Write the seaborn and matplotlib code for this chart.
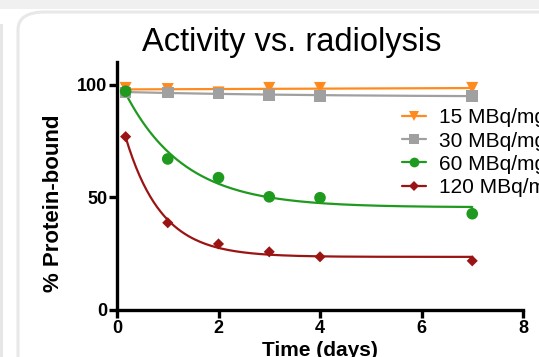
import matplotlib

matplotlib.use("Agg", force=True)
import numpy as np  # noqa: E402
import pandas as pd  # noqa: E402
import seaborn as sns  # noqa: E402
from matplotlib import pyplot as plt  # noqa: E402
from matplotlib.lines import Line2D  # noqa: E402
from matplotlib.patches import FancyBboxPatch, Rectangle  # noqa: E402

TIME_DAYS = [0.17, 1, 2, 3, 4, 7]
SERIES_ORDER = ["15 MBq/mg", "30 MBq/mg", "60 MBq/mg", "120 MBq/mg"]
BOUND_15 = [98.5, 98.0, 96.5, 98.5, 98.5, 98.5]
BOUND_30 = [96.5, 96.5, 96.0, 95.5, 95.0, 95.0]
BOUND_60 = [97.0, 67.0, 58.7, 50.2, 49.8, 42.7]
BOUND_120 = [76.9, 38.7, 29.3, 25.8, 23.6, 21.8]

PALETTE = {
    "15 MBq/mg": "#ff8a1e",
    "30 MBq/mg": "#a0a0a0",
    "60 MBq/mg": "#1f9a1f",
    "120 MBq/mg": "#9b1414",
}
MARKERS = {"15 MBq/mg": "v", "30 MBq/mg": "s", "60 MBq/mg": "o", "120 MBq/mg": "D"}
MARKER_SIZES = {"15 MBq/mg": 75, "30 MBq/mg": 70, "60 MBq/mg": 70, "120 MBq/mg": 32}


def one_phase_decay(t, y):
    # grid over k, linear least squares for plateau and span
    t = np.asarray(t, float)
    y = np.asarray(y, float)
    best = None
    for k in np.logspace(-2, 1.3, 400):
        design = np.column_stack([np.ones_like(t), np.exp(-k * t)])
        coef, *_ = np.linalg.lstsq(design, y, rcond=None)
        sse = np.sum((design @ coef - y) ** 2)
        if best is None or sse < best[0]:
            best = (sse, k, coef)
    _, k, coef = best
    grid = np.linspace(t.min(), t.max(), 200)
    return grid, coef[0] + coef[1] * np.exp(-k * grid)


values = dict(zip(SERIES_ORDER, [BOUND_15, BOUND_30, BOUND_60, BOUND_120]))
points = pd.concat(
    [pd.DataFrame({"time": TIME_DAYS, "bound": v, "series": s}) for s, v in values.items()],
    ignore_index=True,
)
fits = []
for s, v in values.items():
    gx, gy = one_phase_decay(TIME_DAYS, v)
    fits.append(pd.DataFrame({"time": gx, "bound": gy, "series": s}))
fits = pd.concat(fits, ignore_index=True)

sns.set_style("ticks")
plt.rcParams["font.family"] = ["Liberation Sans", "DejaVu Sans"]
plt.rcParams["text.color"] = "black"
plt.rcParams["axes.labelcolor"] = "black"
plt.rcParams["xtick.color"] = "black"
plt.rcParams["ytick.color"] = "black"

fig = plt.figure(figsize=(5.39, 3.57), dpi=100, facecolor="white")

# screenshot frame
fig.patches.append(Rectangle((0, 1 - 9 / 357), 1, 9 / 357, transform=fig.transFigure,
                             facecolor="#f0f0f0", edgecolor="none", zorder=-2))
fig.patches.append(Rectangle((0, 0), 3 / 539, 1 - 24 / 357, transform=fig.transFigure,
                             facecolor="#e6e6e6", edgecolor="none", zorder=-2))
fig.patches.append(FancyBboxPatch((18 / 539, -0.2), 1.2, 1.2 - 12 / 357,
                                  boxstyle="round,pad=0,rounding_size=0.05",
                                  transform=fig.transFigure, facecolor="white",
                                  edgecolor="#e8e8e8", linewidth=2.2, zorder=-1))

ax = fig.add_axes([117 / 539, 47 / 357, 406 / 539, 248 / 357])
ax.set_zorder(2)
ax.patch.set_alpha(0)

for s in SERIES_ORDER:
    sns.lineplot(data=fits[fits["series"] == s], x="time", y="bound", color=PALETTE[s],
                 linewidth=1.6, ax=ax, legend=False, zorder=2)
for s in SERIES_ORDER:
    sns.scatterplot(data=points[points["series"] == s], x="time", y="bound",
                    color=PALETTE[s], marker=MARKERS[s], s=MARKER_SIZES[s],
                    edgecolor="none", ax=ax, legend=False, zorder=3, clip_on=False)

ax.set_xlim(0, 8)
ax.set_ylim(0, 110)
ax.set_xticks([0, 2, 4, 6, 8])
ax.set_yticks([0, 50, 100])
ax.spines[["top", "right"]].set_visible(False)
for side in ("left", "bottom"):
    ax.spines[side].set_linewidth(2.4)
    ax.spines[side].set_color("black")
ax.tick_params(axis="both", width=2.4, length=6, labelsize=13, pad=1)
for lab in ax.get_xticklabels() + ax.get_yticklabels():
    lab.set_fontweight("bold")
ax.set_xlabel("Time (days)", fontsize=15, fontweight="bold", labelpad=3)
ax.set_ylabel("% Protein-bound", fontsize=16, fontweight="bold")
ax.yaxis.set_label_coords(-0.13, 0.43)

fig.text(292 / 539, 1 - 43 / 357, "Activity vs. radiolysis", fontsize=23.5,
         ha="center", va="center")

handles = [
    Line2D([], [], color=PALETTE[s], marker=MARKERS[s], markersize=7 if s != "120 MBq/mg" else 5,
           markeredgewidth=0, linewidth=1.6)
    for s in SERIES_ORDER
]
leg = fig.legend(handles, SERIES_ORDER, loc="upper left",
                 bbox_to_anchor=(392 / 539, 1 - 98 / 357),
                 frameon=False, fontsize=15, handlelength=1.15, handletextpad=0.6,
                 labelspacing=0.2, borderpad=0)
leg.set_zorder(3)

fig.savefig("out.png", dpi=100, facecolor=fig.get_facecolor())
